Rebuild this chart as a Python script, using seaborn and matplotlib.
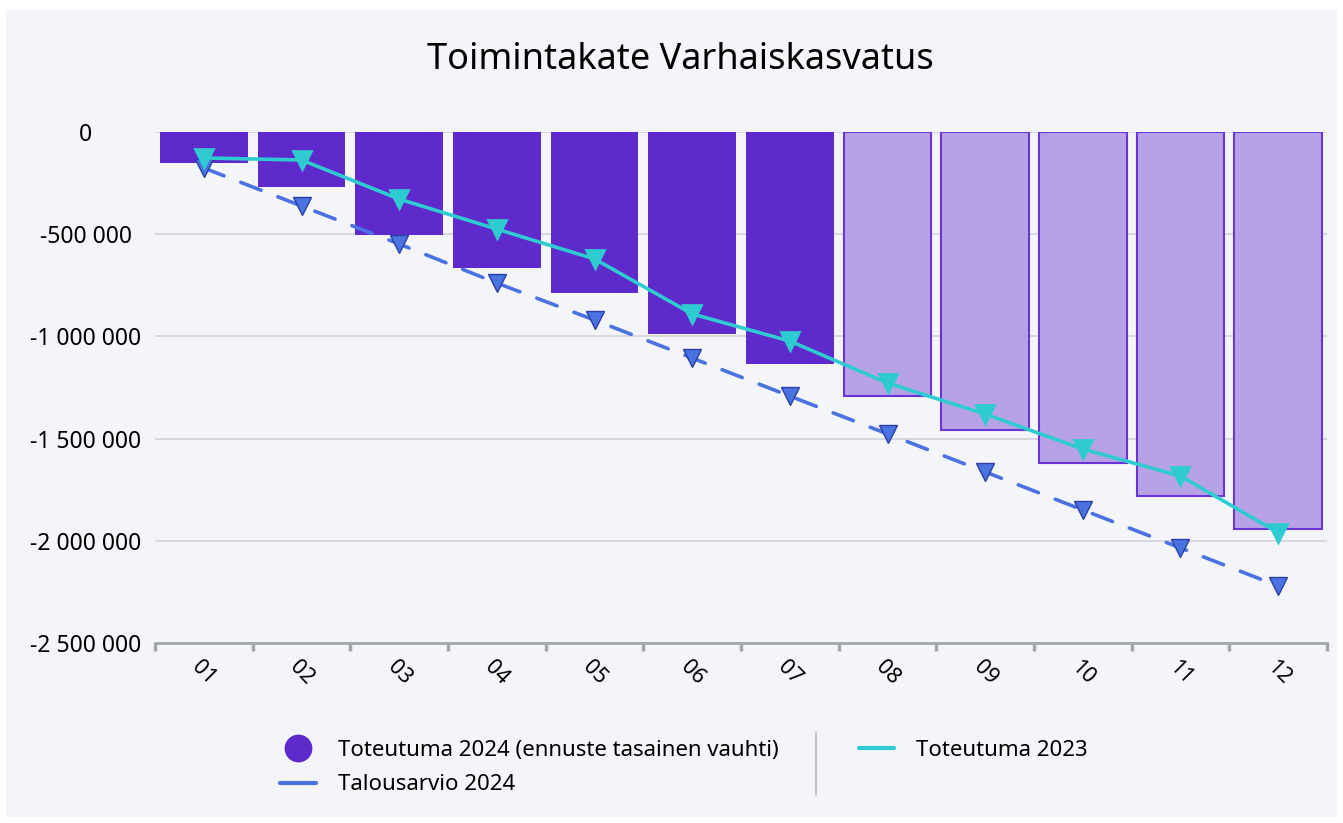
import numpy as np
import pandas as pd
import matplotlib
matplotlib.use("Agg")
import matplotlib.pyplot as plt
from matplotlib.lines import Line2D
from matplotlib.patches import Rectangle
from matplotlib.ticker import FuncFormatter, FixedLocator
import seaborn as sns

months = ['01', '02', '03', '04', '05', '06', '07', '08', '09', '10', '11', '12']
# toteutuma 2024, months 08-12 are forecast (ennuste tasainen vauhti)
toteutuma_2024 = [-152000, -269000, -504000, -665000, -788000, -988000, -1135000,
                  -1292000, -1458000, -1619000, -1781000, -1942000]
n_actual = 7
toteutuma_2023 = [-127000, -137000, -328000, -475000, -621000, -890000, -1023000,
                  -1228000, -1380000, -1551000, -1683000, -1960000]
talousarvio_2024 = [-176000, -362000, -548000, -739000, -920000, -1106000, -1292000,
                    -1477000, -1663000, -1849000, -2035000, -2221000]

df = pd.DataFrame({'kk': months, 'tot24': toteutuma_2024,
                   'tot23': toteutuma_2023, 'ta24': talousarvio_2024})

bg = '#f4f5f9'
purple = '#5f2acb'
light_purple = '#b7a2e6'
edge_purple = '#6a35d6'
cyan = '#2ecbd0'
blue = '#4a72e0'

sns.set_theme(style='white')
plt.rcParams['font.family'] = ['Noto Sans', 'DejaVu Sans']
plt.rcParams['text.color'] = 'black'

fig = plt.figure(figsize=(13.43, 8.23), dpi=100, facecolor='white')
fig.patches.append(Rectangle((6 / 1343, 1 - 817 / 823), 1331 / 1343, 807 / 823,
                             transform=fig.transFigure, facecolor=bg, edgecolor='none', zorder=-10))
ax = fig.add_axes([155 / 1343, 1 - 643 / 823, 1172 / 1343, 511 / 823])
ax.set_facecolor(bg)

sns.barplot(data=df, x='kk', y='tot24', color=purple, width=0.9, saturation=1, ax=ax, zorder=2)
for i, p in enumerate(ax.patches):
    if i < n_actual:
        p.set_facecolor(purple)
        p.set_edgecolor(purple)
        p.set_linewidth(0)
    else:
        p.set_facecolor(light_purple)
        p.set_edgecolor(edge_purple)
        p.set_linewidth(1.5)

sns.pointplot(data=df, x='kk', y='ta24', color=blue, linestyles='--', markers='v', ax=ax,
              markersize=13, markeredgecolor='#2b3fa6', markeredgewidth=1, linewidth=2.6,
              zorder=4)
sns.pointplot(data=df, x='kk', y='tot23', color=cyan, linestyles='-', markers='v', ax=ax,
              markersize=13, markeredgecolor=cyan, linewidth=2.6, zorder=5)
for ln in ax.lines:
    ln.set_clip_on(False)
    if ln.get_linestyle() == '--':
        ln.set_dashes([6, 5])
        ln.set_dash_capstyle('round')

ax.set_ylim(-2500000, 0)
ax.set_xlim(-0.5, 11.5)
ax.set_yticks(np.arange(-2500000, 1, 500000))
ax.yaxis.set_major_formatter(FuncFormatter(lambda v, _: f"{v:,.0f}".replace(',', ' ')))
ax.grid(axis='y', color='#d2d3da', linewidth=1.2, zorder=1)
ax.set_axisbelow(True)
for s in ['top', 'right', 'left']:
    ax.spines[s].set_visible(False)
ax.spines['bottom'].set_color('#a4a6ad')
ax.spines['bottom'].set_linewidth(2)
ax.tick_params(axis='y', length=0, pad=50, labelsize=16.5, labelcolor='black')
for lab in ax.get_yticklabels():
    lab.set_ha('center')
ax.xaxis.set_minor_locator(FixedLocator(np.arange(-0.5, 12, 1)))
ax.tick_params(axis='x', which='major', length=0, pad=10, labelsize=15.5, labelcolor='black')
ax.tick_params(axis='x', which='minor', bottom=True, length=6, width=2.5, color='#a4a6ad')
plt.setp(ax.get_xticklabels(), rotation=-45, ha='center', va='top')
ax.set_xlabel('')
ax.set_ylabel('')

fig.text(680 / 1343, 1 - 60 / 823, 'Toimintakate Varhaiskasvatus', ha='center', va='center',
         fontsize=26, color='black')

handles = [
    Line2D([], [], marker='o', linestyle='none', markersize=19, color=purple),
    Line2D([], [], color=blue, linewidth=3),
    Line2D([], [], color=cyan, linewidth=3),
]
labels = ['Toteutuma 2024 (ennuste tasainen vauhti)', 'Talousarvio 2024', 'Toteutuma 2023']
fig.legend(handles, labels, loc='upper center', bbox_to_anchor=(684 / 1343, 1 - 720 / 823),
           ncol=2, frameon=False, fontsize=16, handlelength=1.6, handletextpad=1.0,
           columnspacing=3.6, labelspacing=0.6)
fig.add_artist(Line2D([816 / 1343, 816 / 1343], [1 - 732 / 823, 1 - 795 / 823],
                      transform=fig.transFigure, color='#c4c5cc', linewidth=1.5))

fig.savefig('out.png', dpi=100, facecolor='white')
